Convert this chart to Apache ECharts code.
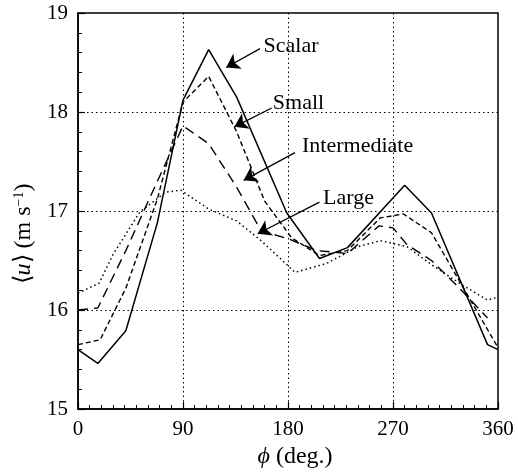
<!DOCTYPE html>
<html>
<head>
<meta charset="utf-8">
<script src="https://cdn.jsdelivr.net/npm/echarts@6/dist/echarts.min.js"></script>
<style>
html,body{margin:0;padding:0;background:#fff;}
#chart{width:518px;height:476px;}
</style>
</head>
<body>
<div id="chart"></div>
<script>
// ---- data ----
var phiScalar = [0, 17, 41, 68, 90, 112, 136, 179, 207, 231, 280, 303, 351, 360];
var uScalar   = [15.6, 15.46, 15.79, 16.88, 18.12, 18.63, 18.15, 16.98, 16.52, 16.63, 17.26, 16.98, 15.65, 15.6];

var phiSmall = [0, 19, 41, 68, 90, 112, 136, 160, 183, 207, 231, 259, 279, 303, 360];
var uSmall   = [15.65, 15.7, 16.22, 17.12, 18.1, 18.36, 17.8, 17.1, 16.73, 16.55, 16.6, 16.93, 16.97, 16.78, 15.62];

var phiInter = [0, 17, 41, 68, 90, 112, 136, 157, 180, 205, 231, 258, 270, 282, 303, 327, 351];
var uInter   = [16.0, 16.02, 16.6, 17.3, 17.86, 17.68, 17.24, 16.8, 16.72, 16.6, 16.57, 16.85, 16.83, 16.66, 16.5, 16.22, 15.92];

var phiLarge = [0, 18, 30, 53, 75, 88, 112, 136, 157, 186, 213, 240, 259, 282, 304, 327, 351, 360];
var uLarge   = [16.17, 16.27, 16.56, 16.99, 17.19, 17.21, 17.02, 16.9, 16.7, 16.38, 16.47, 16.64, 16.7, 16.64, 16.45, 16.27, 16.1, 16.13];

var xTicks = [0, 90, 180, 270, 360];
var yTicks = [15, 16, 17, 18, 19];

// annotation labels: [text, phi, u] and arrows: [phiFrom, uFrom, phiTo, uTo]
var annoNames  = ['Scalar', 'Small', 'Intermediate', 'Large'];
var annoTextAt = [[159, 18.66], [167, 18.09], [192, 17.65], [210, 17.13]];
var annoArrows = [[156, 18.64, 127, 18.45], [166, 18.04, 134, 17.85], [186, 17.59, 142, 17.31], [207, 17.09, 154, 16.77]];

var FONT = "'Liberation Serif','Times New Roman',serif";

function pairs(xs, ys) { return xs.map(function (x, i) { return [x, ys[i]]; }); }

var chart = echarts.init(document.getElementById('chart'), null, {renderer: 'canvas'});

var styles = [
  {type: 'solid', width: 1.5},
  {type: [5, 3], width: 1.4},
  {type: [10, 6], width: 1.4},
  {type: [1.5, 3], width: 1.5}
];
var datasets = [pairs(phiScalar, uScalar), pairs(phiSmall, uSmall), pairs(phiInter, uInter), pairs(phiLarge, uLarge)];

var series = datasets.map(function (d, k) {
  return {
    name: annoNames[k],
    type: 'line',
    data: d,
    symbol: 'none',
    clip: false,
    color: '#000',
    lineStyle: {color: '#000', width: styles[k].width, type: styles[k].type},
    z: 3
  };
});

// annotations series
series.push({
  type: 'line',
  data: [],
  color: '#000',
  markLine: {
    silent: true,
    symbol: ['none', 'arrow'],
    symbolSize: 13,
    itemStyle: {color: '#000'},
    lineStyle: {color: '#000', width: 1.3, type: 'solid'},
    label: {show: false},
    emphasis: {disabled: true},
    data: annoArrows.map(function (a) {
      return [{coord: [a[0], a[1]]}, {coord: [a[2], a[3]], itemStyle: {color: '#000'}}];
    })
  },
  markPoint: {
    silent: true,
    symbol: 'circle',
    symbolSize: 0,
    data: annoNames.map(function (n, i) {
      return {
        coord: annoTextAt[i],
        label: {
          show: true, formatter: n, position: 'right', distance: 0,
          color: '#000', fontFamily: FONT, fontSize: 22, align: 'left', verticalAlign: 'middle'
        }
      };
    })
  }
});

chart.setOption({
  animation: false,
  backgroundColor: '#fff',
  grid: {left: 78, right: 20, top: 13, bottom: 67, show: true, borderColor: '#000', borderWidth: 1.5, backgroundColor: 'transparent'},
  xAxis: {
    type: 'value', min: xTicks[0], max: xTicks[xTicks.length - 1], interval: 90,
    name: '{i|ϕ} (deg.)', nameLocation: 'middle', nameGap: 36,
    nameTextStyle: {color: '#000', fontFamily: FONT, fontSize: 24, padding: [0, 0, 0, 14],
      rich: {i: {fontStyle: 'italic', fontFamily: FONT, fontSize: 24, color: '#000'}}},
    axisLine: {show: true, lineStyle: {color: '#000', width: 1.5}},
    axisTick: {show: true, inside: true, length: 7, lineStyle: {color: '#000', width: 1.2}},
    minorTick: {show: true, splitNumber: 9, length: 4, lineStyle: {color: '#000', width: 1}},
    axisLabel: {color: '#000', fontFamily: FONT, fontSize: 21, margin: 10},
    splitLine: {show: true, showMinLine: false, showMaxLine: false, lineStyle: {color: '#000', type: [1.5, 3], width: 1}}
  },
  yAxis: {
    type: 'value', min: yTicks[0], max: yTicks[yTicks.length - 1], interval: 1,
    name: '{n|⟨}{i|u}{n|⟩ (m s}{s|−1}{n|)}', nameLocation: 'middle', nameGap: 34, nameRotate: 90,
    nameTextStyle: {color: '#000', fontFamily: FONT, fontSize: 24, padding: [0, 46, 0, 0],
      rich: {
        n: {fontFamily: FONT, fontSize: 24, color: '#000'},
        i: {fontFamily: FONT, fontSize: 24, fontStyle: 'italic', color: '#000'},
        s: {fontFamily: FONT, fontSize: 14, color: '#000', verticalAlign: 'top'}
      }},
    axisLine: {show: true, lineStyle: {color: '#000', width: 1.5}},
    axisTick: {show: true, inside: true, length: 7, lineStyle: {color: '#000', width: 1.2}},
    minorTick: {show: true, splitNumber: 5, length: 4, lineStyle: {color: '#000', width: 1}},
    axisLabel: {color: '#000', fontFamily: FONT, fontSize: 21, margin: 10},
    splitLine: {show: true, showMinLine: false, showMaxLine: false, lineStyle: {color: '#000', type: [1.5, 3], width: 1}}
  },
  series: series
});
</script>
</body>
</html>
